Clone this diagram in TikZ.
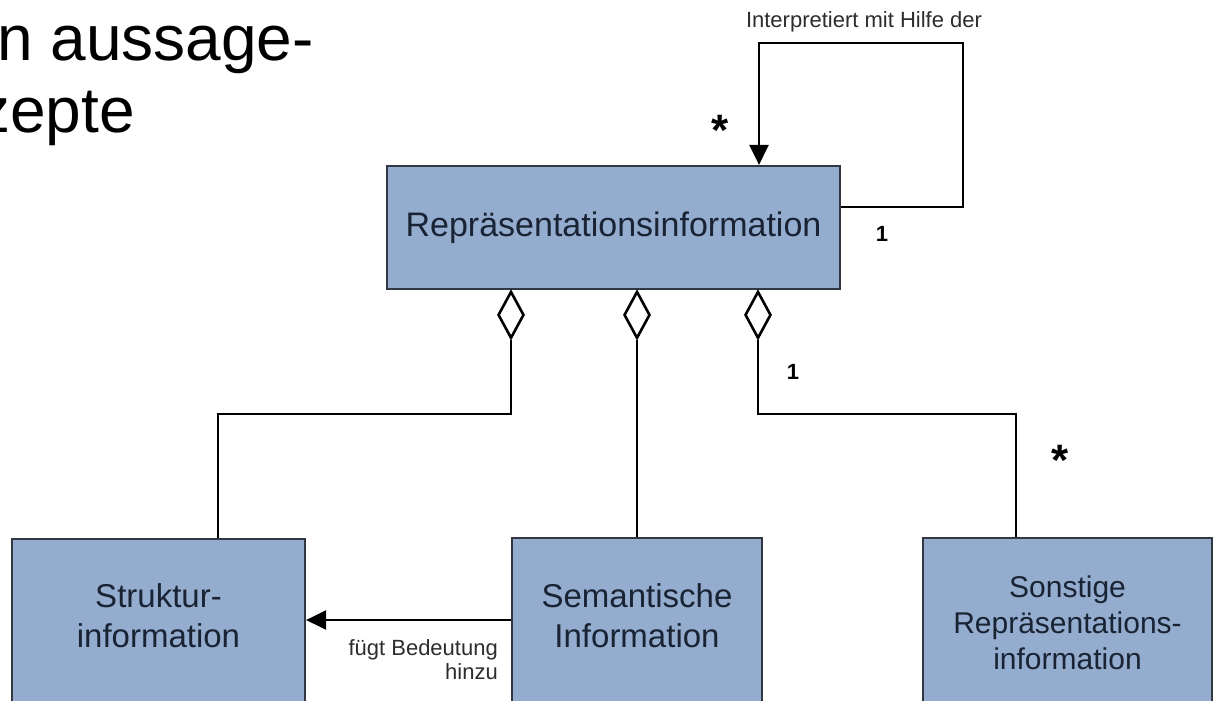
\documentclass[tikz,border=0pt]{standalone}
\usepackage{fontspec}
\setmainfont{Liberation Sans}
\usetikzlibrary{arrows.meta,shapes.geometric}
\definecolor{boxfill}{RGB}{148,172,205}
\definecolor{boxline}{RGB}{50,56,66}
\definecolor{boxtext}{RGB}{25,35,52}
\definecolor{labeltext}{RGB}{45,45,45}
\begin{document}
\begin{tikzpicture}[x=1pt,y=-1pt,
  classbox/.style={draw=boxline, line width=2.2pt, fill=boxfill, inner sep=0pt},
  classtext/.style={text=boxtext, align=center, inner sep=0pt},
  conn/.style={draw=black, line width=2.8pt},
  agg/.style={diamond, draw=black, line width=2.6pt, fill=white,
    minimum width=26pt, minimum height=47pt, inner sep=0pt},
  tip/.style={-{Triangle[length=20pt,width=19pt]}},
  mult/.style={font=\fontsize{22}{22}\selectfont\bfseries, inner sep=0pt},
  star/.style={font=\fontsize{44}{44}\selectfont\bfseries, inner sep=0pt},
  rolelabel/.style={font=\fontsize{22}{24}\selectfont, text=labeltext, inner sep=0pt},
  headline/.style={font=\fontsize{64}{72}\selectfont, anchor=base west, inner sep=0pt},
]
\useasboundingbox (0,0) rectangle (1216,701);
\clip (0,0) rectangle (1216,701);
\fill[white] (0,0) rectangle (1216,701);

% slide heading, cut at the left edge
\node[headline] (head1) at (-3,60) {n aussage-};
\node[headline] (head2) at (-22,132) {zepte};

% classes
\node[classbox, minimum width=453pt, minimum height=123pt] (rep) at (613.5,227.5) {};
\node[classtext, font=\fontsize{34}{40}\selectfont] (reptext) at (rep.center) {Repräsentationsinformation};

\node[classbox, minimum width=293pt, minimum height=221pt] (struk) at (158.5,649.5) {};
\node[classtext, font=\fontsize{33}{40}\selectfont] (struktext) at (158.5,616) {Struktur-\\information};

\node[classbox, minimum width=250pt, minimum height=222pt] (sem) at (637,649) {};
\node[classtext, font=\fontsize{33}{40}\selectfont] (semtext) at (637,616) {Semantische\\Information};

\node[classbox, minimum width=289pt, minimum height=222pt] (sons) at (1067.5,649) {};
\node[classtext, font=\fontsize{30}{36}\selectfont] (sonstext) at (1067.5,623) {Sonstige\\Repräsentations-\\information};

% aggregation diamonds under the whole
\node[agg, anchor=north] (d1) at ([xshift=-102.5pt]rep.south) {};
\node[agg, anchor=north] (d2) at ([xshift=23.5pt]rep.south) {};
\node[agg, anchor=north] (d3) at ([xshift=144.5pt]rep.south) {};

% bend points of the connectors
\coordinate (bendL) at (218,414);
\coordinate (bendR) at (1016,414);
\coordinate (loopOut) at (rep.east |- 0,207);
\coordinate (loopTR) at (963,43);
\coordinate (loopIn) at (759,43);
\coordinate (addY) at (0,620);

\draw[conn] (d1.south) |- (bendL) -- (bendL |- struk.north);
\draw[conn] (d2.south) -- (d2.south |- sem.north);
\draw[conn] (d3.south) |- (bendR) -- (bendR |- sons.north);
\draw[conn,tip] (loopOut) -| (loopTR) -| (loopIn |- rep.north);
\draw[conn,tip] (sem.west |- addY) -- (struk.east |- addY);

% labels and multiplicities
\node[rolelabel] (interp) at (864,22) {Interpretiert mit Hilfe der};
\node[rolelabel, align=right, anchor=north east] (addlbl) at (498,639) {fügt Bedeutung\\hinzu};
\node[star] (mstarTop) at (720,130) {*};
\node[mult] (moneTop) at (882,234) {1};
\node[mult] (moneAgg) at (793,372) {1};
\node[star] (mstarAgg) at (1060,460) {*};
\end{tikzpicture}
\end{document}
